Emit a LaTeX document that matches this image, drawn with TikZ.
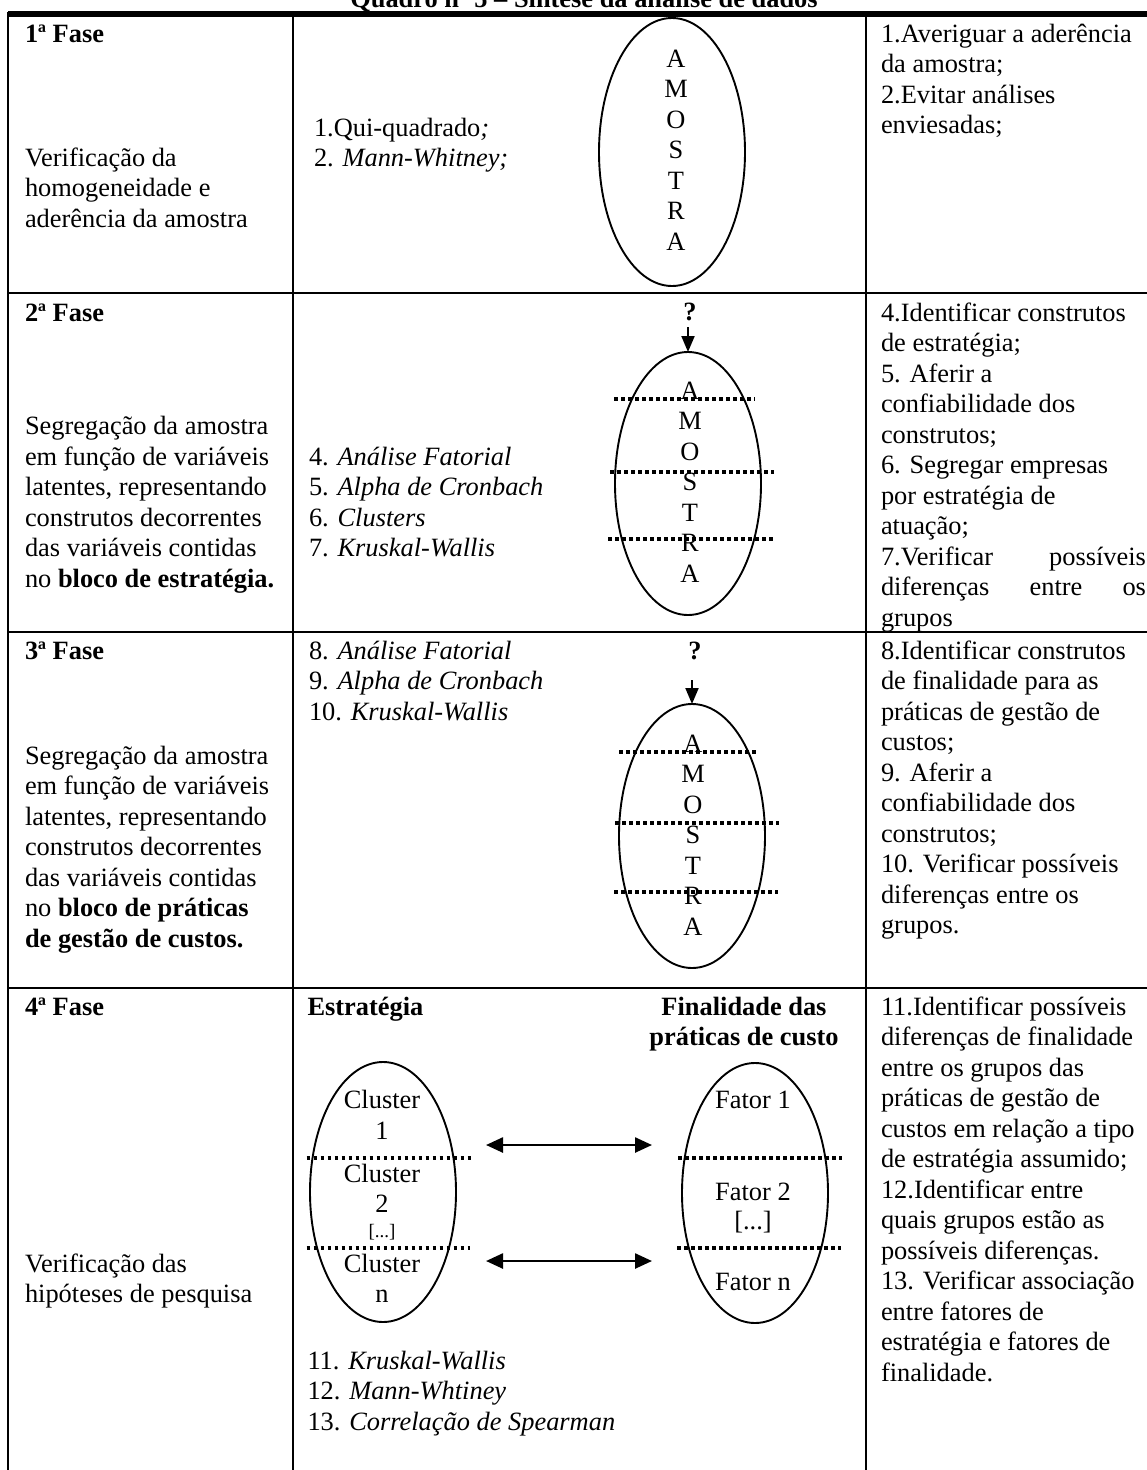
\documentclass[tikz,border=0pt]{standalone}
\usepackage{fontspec}
\setmainfont{Liberation Serif}
\usetikzlibrary{shapes.geometric,arrows.meta}
\newcommand{\bodyfont}{\fontsize{26.4pt}{30.5pt}\selectfont}
\newcommand{\smallfnt}{\fontsize{19pt}{22pt}\selectfont}
\newcommand{\tst}{\rule{0pt}{26pt}}
\newcommand{\jline}[1]{\makebox[265pt][s]{#1}}
\begin{document}
\begin{tikzpicture}[x=1pt,y=-1pt,
  txt/.style={anchor=north west, inner sep=0pt, outer sep=0pt, align=left, font=\bodyfont},
  btxt/.style={txt, font=\bodyfont\bfseries},
  ctxt/.style={anchor=north, inner sep=0pt, outer sep=0pt, align=center, font=\bodyfont},
  lbl/.style={anchor=base, inner sep=0pt, outer sep=0pt, font=\bodyfont},
  grid/.style={line width=2.2pt},
  oval/.style={draw, ellipse, line width=1.9pt, inner sep=0pt, outer sep=0pt, minimum width=146pt},
  dots/.style={line width=3.5pt, dash pattern=on 3.5pt off 3.5pt},
  arr/.style={line width=2pt, -{Triangle[length=16pt,width=13pt]}},
  darr/.style={line width=2.5pt, {Triangle[length=17pt,width=15pt]}-{Triangle[length=17pt,width=15pt]}}
]
\useasboundingbox (0,0) rectangle (1147,1470);
% table
\draw[line width=5.5pt] (8,14) -- (1147,14);
\draw[grid] (8,12) -- (8,1470);
\draw[grid] (293,14) -- (293,1470);
\draw[grid] (866,14) -- (866,1470);
\draw[grid] (8,293) -- (1147,293);
\draw[grid] (8,632) -- (1147,632);
\draw[grid] (8,988) -- (1147,988);
% title
\node[lbl, font=\bodyfont\bfseries] (title) at (584,7) {Quadro nº 5 – Síntese da análise de dados};
% row 1
\node[btxt] (f1) at (25,16) {\tst 1ª Fase};
\node[txt] (d1) at (25,140) {\tst Verificação da\\homogeneidade e\\aderência da amostra};
\node[txt] (m1) at (314,110) {\tst 1.Qui-quadrado\textit{;}\\2. \textit{Mann-Whitney;}};
\node[oval, minimum height=268pt] (e1) at (672,152) {};
\node[ctxt] (s1) at (676,41) {\tst A\\M\\O\\S\\T\\R\\A};
\node[txt] (r1) at (881,16) {\tst 1.Averiguar a aderência\\da amostra;\\2.Evitar análises\\enviesadas;};
% row 2
\node[btxt] (f2) at (25,295) {\tst 2ª Fase};
\node[txt] (d2) at (25,408.5) {\tst Segregação da amostra\\em função de variáveis\\latentes, representando\\construtos decorrentes\\das variáveis contidas\\no \textbf{bloco de estratégia.}};
\node[txt] (m2) at (309,439) {\tst 4. \textit{Análise Fatorial}\\5. \textit{Alpha de Cronbach}\\6. \textit{Clusters}\\7. \textit{Kruskal-Wallis}};
\node[lbl, font=\bodyfont\bfseries] (q2) at (690,320) {?};
\node[oval, minimum height=263pt] (e2) at (688,483.5) {};
\coordinate (a2) at (688,327);
\draw[arr] (a2) -- (e2.north);
\node[ctxt] (s2) at (690,373) {\tst A\\M\\O\\S\\T\\R\\A};
\draw[dots] (614,399) -- (755,399);
\draw[dots] (610,472) -- (774,472);
\draw[dots] (608,539) -- (774,539);
\node[txt] (r2) at (881,295) {\tst 4.Identificar construtos\\de estratégia;\\5. Aferir a\\confiabilidade dos\\construtos;\\6. Segregar empresas\\por estratégia de\\atuação;\\\jline{7.Verificar possíveis}\\\jline{diferenças entre os}\\grupos};
% row 3
\node[btxt] (f3) at (25,633) {\tst 3ª Fase};
\node[txt] (d3) at (25,738) {\tst Segregação da amostra\\em função de variáveis\\latentes, representando\\construtos decorrentes\\das variáveis contidas\\no \textbf{bloco de práticas}\\\textbf{de gestão de custos.}};
\node[txt] (m3) at (309,633) {\tst 8. \textit{Análise Fatorial}\\9. \textit{Alpha de Cronbach}\\10. \textit{Kruskal-Wallis}};
\node[lbl, font=\bodyfont\bfseries] (q3) at (695,659) {?};
\node[oval, minimum height=264pt] (e3) at (692,836) {};
\coordinate (a3) at (692,680);
\draw[arr] (a3) -- (e3.north);
\node[ctxt] (s3) at (693,726) {\tst A\\M\\O\\S\\T\\R\\A};
\draw[dots] (619,752) -- (759,752);
\draw[dots] (615,823) -- (779,823);
\draw[dots] (614,892) -- (778,892);
\node[txt] (r3) at (881,633) {\tst 8.Identificar construtos\\de finalidade para as\\práticas de gestão de\\custos;\\9. Aferir a\\confiabilidade dos\\construtos;\\10. Verificar possíveis\\diferenças entre os\\grupos.};
% row 4
\node[btxt] (f4) at (25,989) {\tst 4ª Fase};
\node[txt] (d4) at (25,1246) {\tst Verificação das\\hipóteses de pesquisa};
\node[btxt] (est) at (307.5,989) {\tst Estratégia};
\node[ctxt, font=\bodyfont\bfseries] (fin) at (744,989) {\tst Finalidade das\\práticas de custo};
\node[oval, minimum height=260pt] (eL) at (383,1192) {};
\node[oval, minimum height=260pt] (eR) at (755,1193) {};
\node[ctxt] (cl1) at (382,1082.5) {\tst Cluster\\1};
\node[ctxt] (cl2) at (382,1156) {\tst Cluster\\2};
\node[lbl, font=\smallfnt] (cld) at (382,1237) {[...]};
\node[ctxt] (cln) at (382,1246) {\tst Cluster\\n};
\node[lbl] (ft1) at (753,1108.5) {Fator 1};
\node[lbl] (ft2) at (753,1200) {Fator 2};
\node[lbl] (ftd) at (753,1229) {[...]};
\node[lbl] (ftn) at (753,1290) {Fator n};
\draw[dots] (306.7,1158) -- (471.6,1158);
\draw[dots] (306.7,1248) -- (469.5,1248);
\draw[dots] (678.4,1158) -- (842.4,1158);
\draw[dots] (677,1248) -- (841,1248);
\coordinate (p1) at (486,1145);
\coordinate (q1) at (652,1145);
\coordinate (p2) at (486,1261);
\coordinate (q2c) at (652,1261);
\draw[darr] (p1) -- (q1);
\draw[darr] (p2) -- (q2c);
\node[txt] (t4) at (307.5,1343) {\tst 11. \textit{Kruskal-Wallis}\\12. \textit{Mann-Whtiney}\\13. \textit{Correlação de Spearman}};
\node[txt] (r4) at (881,989) {\tst 11.Identificar possíveis\\diferenças de finalidade\\entre os grupos das\\práticas de gestão de\\custos em relação a tipo\\de estratégia assumido;\\12.Identificar entre\\quais grupos estão as\\possíveis diferenças.\\13. Verificar associação\\entre fatores de\\estratégia e fatores de\\finalidade.};
\end{tikzpicture}
\end{document}
